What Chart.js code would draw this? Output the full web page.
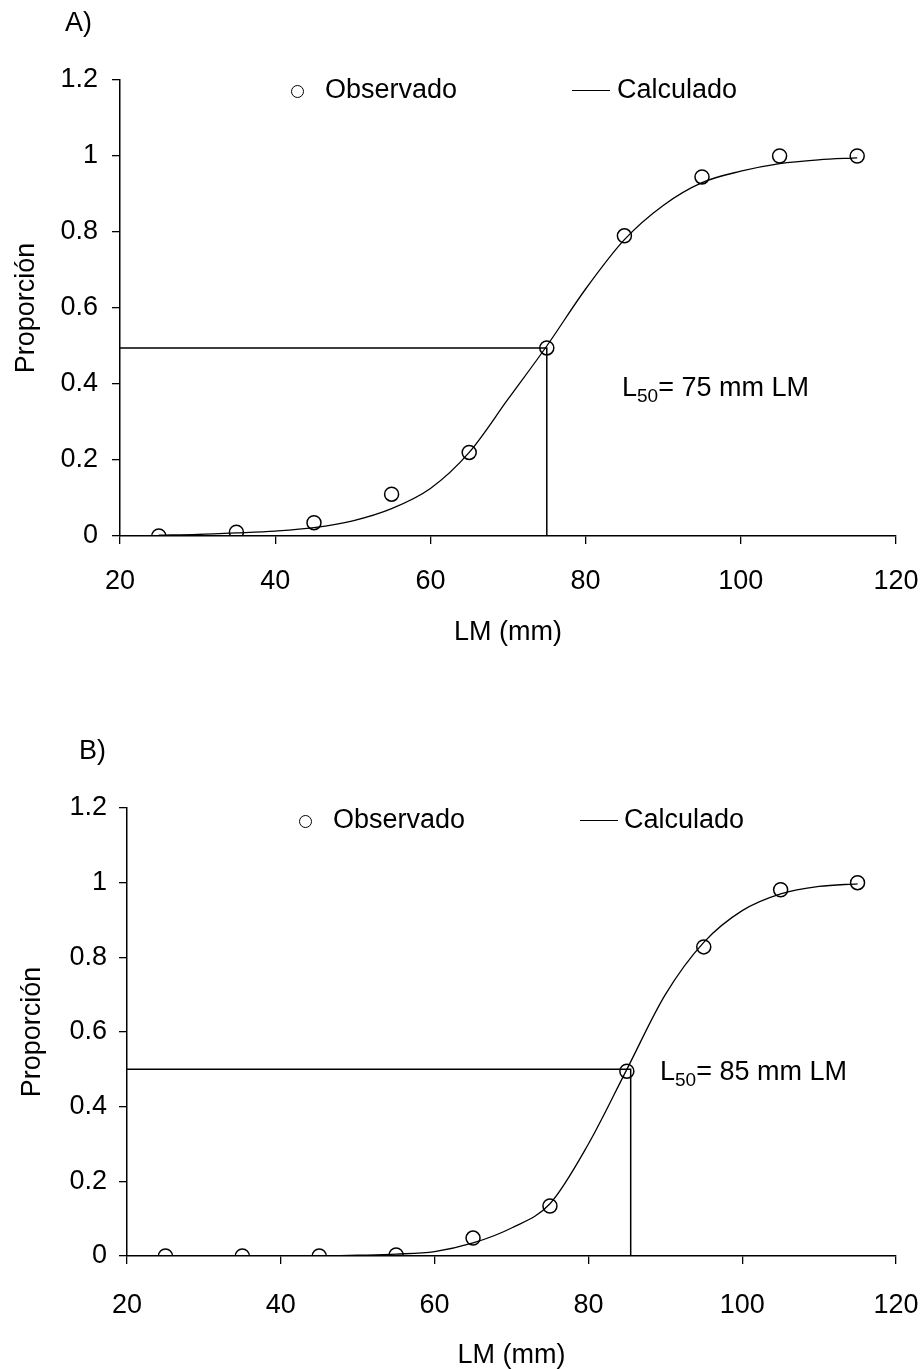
<!DOCTYPE html>
<html lang="es">
<head>
<meta charset="UTF-8">
<title>Proporción de madurez</title>
<style>
  body { margin: 0; background: #fff; font-family: "Liberation Sans", Arial, sans-serif; color: #000; }
  .page { position: relative; width: 922px; height: 1369px; }
  canvas { position: absolute; left: 0; }
  .txt { position: absolute; font-size: 27px; line-height: 27px; white-space: nowrap; }
  .txt sub { font-size: 19px; vertical-align: -6px; line-height: 0; }
  .dot { display: inline-block; width: 11px; height: 11px; border: 1.5px solid #000; border-radius: 50%; }
  .dash { display: inline-block; width: 38px; height: 0; border-top: 1.5px solid #000; }
</style>
</head>
<body>
<div class="page">
  <canvas id="chartA" width="922" height="684" style="top:0"></canvas>
  <canvas id="chartB" width="922" height="689" style="top:680px"></canvas>

  <div class="txt" style="left:65px; top:9px">A)</div>
  <div class="txt" style="left:291px; top:76px"><span class="dot"></span></div>
  <div class="txt" style="left:325px; top:76px">Observado</div>
  <div class="txt" style="left:572px; top:76px"><span class="dash" style="vertical-align:middle"></span></div>
  <div class="txt" style="left:617px; top:76px">Calculado</div>
  <div class="txt" style="left:622px; top:374px">L<sub>50</sub>= 75 mm LM</div>

  <div class="txt" style="left:79px; top:737px">B)</div>
  <div class="txt" style="left:299px; top:806px"><span class="dot"></span></div>
  <div class="txt" style="left:333px; top:806px">Observado</div>
  <div class="txt" style="left:580px; top:806px"><span class="dash" style="vertical-align:middle"></span></div>
  <div class="txt" style="left:624px; top:806px">Calculado</div>
  <div class="txt" style="left:660px; top:1058px">L<sub>50</sub>= 85 mm LM</div>
</div>

<script src="https://cdn.jsdelivr.net/npm/chart.js"></script>
<script>
  // tallas (LM, mm)
  const lengths = [25, 35, 45, 55, 65, 75, 85, 95, 105, 115];
  const curveX = [25, 30, 35, 40, 45, 50, 55, 60, 65, 70, 75, 80, 85, 90, 95, 100, 105, 110, 115];

  // A)
  const observedA = [0, 0.01, 0.035, 0.11, 0.22, 0.495, 0.79, 0.945, 1.0, 1.0];
  const calculatedA = [0.002, 0.004, 0.008, 0.013, 0.022, 0.04, 0.072, 0.125, 0.22, 0.36, 0.5, 0.65, 0.78, 0.87, 0.93, 0.96, 0.98, 0.99, 0.995];
  const l50A_x = [20, 75, 75];
  const l50A_y = [0.495, 0.495, 0];

  // B)
  const observedB = [0, 0, 0, 0.003, 0.048, 0.134, 0.495, 0.828, 0.981, 1.0];
  const calculatedB = [0, 0, 0, 0, 0, 0.002, 0.005, 0.012, 0.035, 0.075, 0.14, 0.3, 0.5, 0.7, 0.84, 0.925, 0.97, 0.99, 0.997];
  const l50B_x = [20, 85.5, 85.5];
  const l50B_y = [0.5, 0.5, 0];

  const xTicks = [20, 40, 60, 80, 100, 120];
  const yTicks = [0, 0.2, 0.4, 0.6, 0.8, 1, 1.2];
  const yTickLabels = ['0', '0.2', '0.4', '0.6', '0.8', '1', '1.2'];

  const FONT = '"Liberation Sans", Arial, sans-serif';

  function pts(xs, ys) {
    return xs.map((x, i) => ({ x: x, y: ys[i] }));
  }

  function makeChart(id, obs, calc, refX, refY, lay) {
    return new Chart(document.getElementById(id), {
      type: 'line',
      data: {
        datasets: [
          {
            label: 'Observado',
            data: pts(lengths, obs),
            showLine: false,
            pointStyle: 'circle',
            pointRadius: 7,
            pointBorderWidth: 1.5,
            pointBorderColor: '#000',
            pointBackgroundColor: 'rgba(0,0,0,0)'
          },
          {
            label: 'Calculado',
            data: pts(curveX, calc),
            borderColor: '#000',
            borderWidth: 1.3,
            pointRadius: 0,
            cubicInterpolationMode: 'monotone'
          },
          {
            label: 'L50',
            data: pts(refX, refY),
            borderColor: '#000',
            borderWidth: 1.5,
            pointRadius: 0,
            tension: 0
          }
        ]
      },
      options: {
        responsive: false,
        animation: false,
        devicePixelRatio: 1,
        layout: { padding: { top: lay.top, right: 26, left: 0, bottom: 0 } },
        plugins: { legend: { display: false }, tooltip: { enabled: false } },
        scales: {
          x: {
            type: 'linear',
            min: 20,
            max: 120,
            afterFit: (s) => { s.height = lay.xh; s.paddingLeft = 0; s.paddingRight = 0; },
            afterBuildTicks: (s) => { s.ticks = xTicks.map(v => ({ value: v })); },
            grid: { drawOnChartArea: false, drawTicks: true, tickLength: 8, color: '#000', lineWidth: 1.3 },
            border: { color: '#000', width: 1.5 },
            ticks: { color: '#000', padding: lay.xpad, font: { family: FONT, size: 27 }, maxRotation: 0 },
            title: { display: true, text: 'LM (mm)', color: '#000', font: { family: FONT, size: 27, lineHeight: 1 }, padding: { top: 0, bottom: lay.xtitle } }
          },
          y: {
            type: 'linear',
            min: 0,
            max: 1.2,
            afterFit: (s) => { s.width = lay.yw; },
            afterBuildTicks: (s) => { s.ticks = yTicks.map(v => ({ value: v })); },
            grid: { drawOnChartArea: false, drawTicks: true, tickLength: 8, color: '#000', lineWidth: 1.3 },
            border: { color: '#000', width: 1.5 },
            ticks: {
              color: '#000', padding: lay.ypad, font: { family: FONT, size: 27 },
              callback: (v) => { const i = yTicks.indexOf(v); return i >= 0 ? yTickLabels[i] : ''; }
            },
            title: { display: true, text: 'Proporción', color: '#000', font: { family: FONT, size: 27, lineHeight: 1 }, padding: { top: lay.ytitle, bottom: 0 } }
          }
        }
      }
    });
  }

  makeChart('chartA', observedA, calculatedA, l50A_x, l50A_y,
    { top: 80, xh: 148, yw: 120, xpad: 21, ypad: 14, xtitle: 38, ytitle: 13 });
  makeChart('chartB', observedB, calculatedB, l50B_x, l50B_y,
    { top: 128, xh: 113, yw: 127, xpad: 25, ypad: 12, xtitle: 0, ytitle: 19 });
</script>
</body>
</html>
